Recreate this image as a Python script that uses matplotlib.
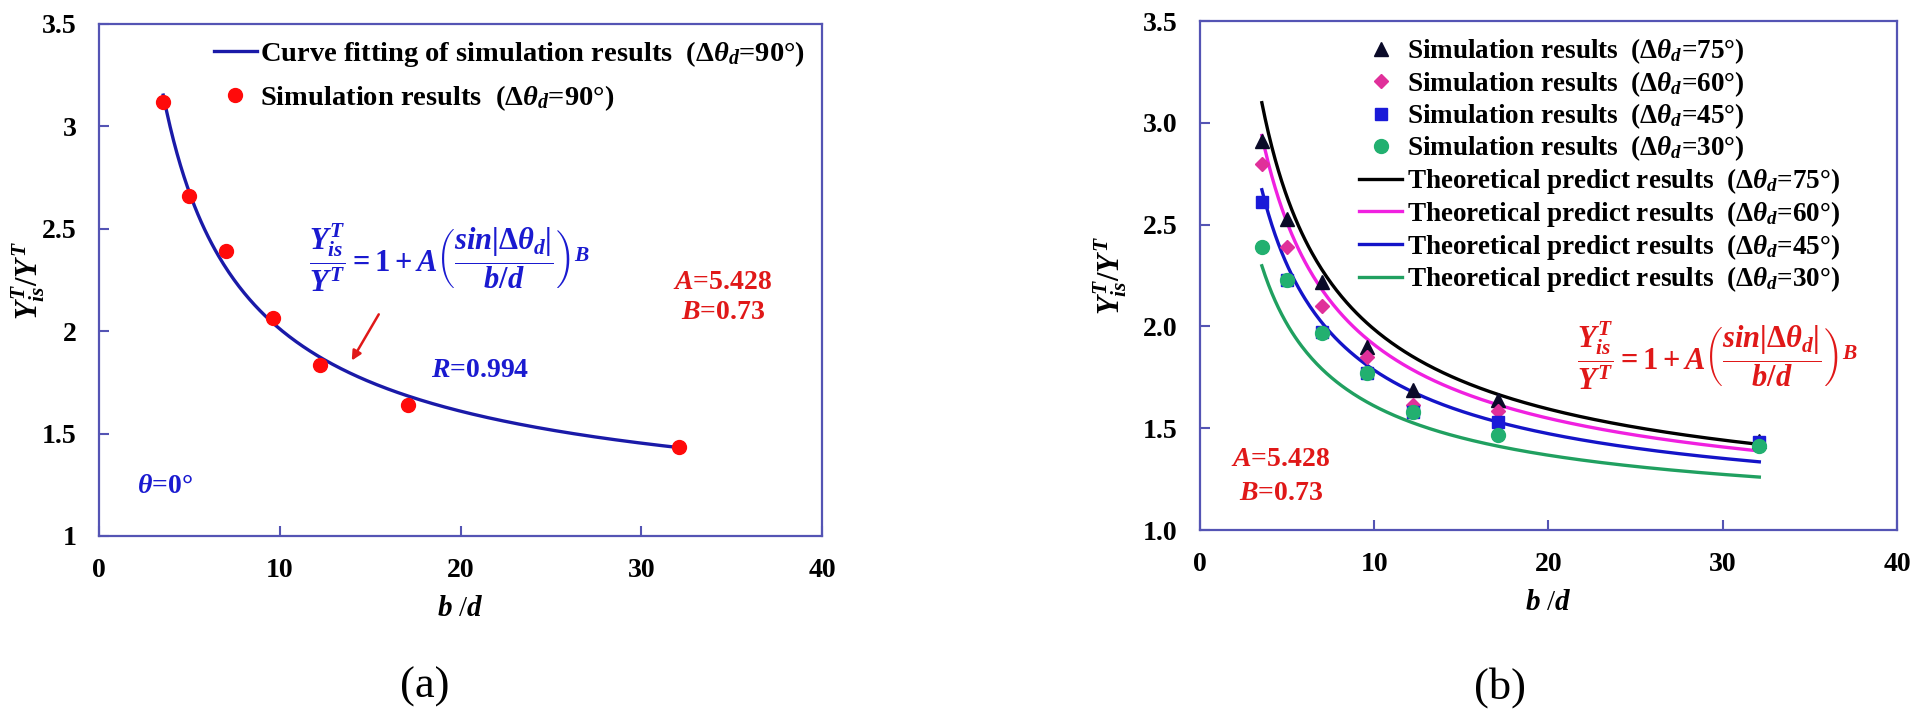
import matplotlib
matplotlib.use("Agg")
import matplotlib.pyplot as plt
import numpy as np

# values
bd = [3.55, 5.0, 7.0, 9.6, 12.2, 17.1, 32.1]
sim_90 = [3.12, 2.66, 2.39, 2.065, 1.835, 1.64, 1.435]
sim_75 = [2.91, 2.53, 2.22, 1.90, 1.69, 1.64, 1.435]
sim_60 = [2.80, 2.39, 2.10, 1.85, 1.615, 1.585, 1.42]
sim_45 = [2.61, 2.23, 1.975, 1.77, 1.58, 1.53, 1.43]
sim_30 = [2.39, 2.23, 1.97, 1.77, 1.58, 1.465, 1.415]
angles_b = [75, 60, 45, 30]

# fit constants printed on the chart: Y/Y = 1 + A (sin|dtheta| / (b/d))^B
A_fit = 5.428
B_fit = 0.73

xticks = [0, 10, 20, 30, 40]
yticks = [1.0, 1.5, 2.0, 2.5, 3.0, 3.5]
yticklabels_a = ["1", "1.5", "2", "2.5", "3", "3.5"]
yticklabels_b = ["1.0", "1.5", "2.0", "2.5", "3.0", "3.5"]

SERIF = "Liberation Serif"
plt.rcParams["font.family"] = [SERIF, "DejaVu Serif"]
plt.rcParams["font.weight"] = "bold"
plt.rcParams["mathtext.fontset"] = "custom"
plt.rcParams["mathtext.rm"] = "Liberation Serif:bold"
plt.rcParams["mathtext.it"] = "Liberation Serif:italic:bold"
plt.rcParams["mathtext.bf"] = "Liberation Serif:bold"

SPINE = "#5454b4"
EQ = r"$\dfrac{Y^T_{is}}{Y^T} = 1 + A\left(\dfrac{sin|\Delta\theta_d|}{b/d}\right)^B$"


def fit_curve(theta_deg):
    x = np.linspace(bd[0], bd[-1], 300)
    s = abs(np.sin(np.radians(theta_deg)))
    return x, 1 + A_fit * (s / x) ** B_fit


def style_axes(ax, ylabels, ylab_x):
    ax.set_xlim(0, 40)
    ax.set_ylim(1, 3.5)
    ax.set_xticks(xticks)
    ax.set_yticks(yticks)
    ax.set_yticklabels(ylabels)
    for sp in ax.spines.values():
        sp.set_color(SPINE)
        sp.set_linewidth(1.6)
    ax.tick_params(direction="in", length=7, width=1.5, color=SPINE,
                   labelsize=20, pad=16)
    for lab in ax.get_xticklabels() + ax.get_yticklabels():
        lab.set_fontweight("bold")
    ax.set_xlabel("$b$ /$d$", fontsize=21)
    ax.set_ylabel("$Y^T_{is}/Y^T$", fontsize=22)
    ax.yaxis.set_label_coords(ylab_x, 0.5)
    ax.xaxis.set_label_coords(0.5, -0.118)


fig = plt.figure(figsize=(19.2, 7.18), dpi=100)
ax1 = fig.add_axes([0.0516, 0.2535, 0.3766, 0.7131])
ax2 = fig.add_axes([0.625, 0.2618, 0.363, 0.7089])

# ---- (a)
x, y = fit_curve(90)
ax1.plot(x, y, color="#1a1aa8", lw=2.4, zorder=2,
         label="Curve fitting of simulation results  (Δ$\\theta_d$=90°)")
ax1.plot(bd, sim_90, "o", color="#ff0a0a", ms=10, zorder=3,
         label="Simulation results  (Δ$\\theta_d$=90°)")
style_axes(ax1, yticklabels_a, -0.072)
ax1.legend(loc="upper left", bbox_to_anchor=(0.159, 0.97), frameon=False,
           fontsize=20.5, handlelength=1.5, handletextpad=0.1, borderpad=0,
           borderaxespad=0, labelspacing=0.5)

ax1.text(19.4, 2.36, EQ, color="#1a1ad0", fontsize=22, ha="center", va="center")
ax1.text(34.5, 2.24, "$A$=5.428", color="#e01818", fontsize=20, ha="center", va="center")
ax1.text(34.5, 2.09, "$B$=0.73", color="#e01818", fontsize=20, ha="center", va="center")
ax1.text(21.1, 1.81, "$R$=0.994", color="#1a1ad0", fontsize=20, ha="center", va="center")
ax1.text(3.65, 1.24, r"$\theta$=0°", color="#1a1ad0", fontsize=20, ha="center", va="center")
ax1.annotate("", xy=(13.9, 1.845), xytext=(15.55, 2.094),
             arrowprops=dict(arrowstyle="-|>", color="#e01818", lw=1.8,
                             mutation_scale=14))

# ---- (b)
markers = [("^", "#0a0a28", sim_75), ("D", "#e0309a", sim_60),
           ("s", "#1a1ad8", sim_45), ("o", "#22b070", sim_30)]
sizes = {"^": 10, "D": 7.5, "s": 9, "o": 10}
for (m, c, vals), ang in zip(markers, angles_b):
    ax2.plot(bd, vals, m, color=c, ms=sizes[m], zorder=3,
             label=f"Simulation results  (Δ$\\theta_d$={ang}°)")
line_cols = ["#000000", "#f020e0", "#1414c8", "#20a060"]
for c, ang in zip(line_cols, angles_b):
    x, y = fit_curve(ang)
    ax2.plot(x, y, color=c, lw=2.4, zorder=2,
             label=f"Theoretical predict results  (Δ$\\theta_d$={ang}°)")
style_axes(ax2, yticklabels_b, -0.102)
ax2.legend(loc="upper left", bbox_to_anchor=(0.228, 0.97), frameon=False,
           fontsize=19.5, handlelength=1.6, handletextpad=0.17, borderpad=0,
           borderaxespad=0, labelspacing=0.1)

ax2.text(29.7, 1.855, EQ, color="#e01818", fontsize=22, ha="center", va="center")
ax2.text(4.65, 1.344, "$A$=5.428", color="#e01818", fontsize=20, ha="center", va="center")
ax2.text(4.65, 1.18, "$B$=0.73", color="#e01818", fontsize=20, ha="center", va="center")

fig.text(0.221, 0.043, "(a)", fontsize=32, fontweight="normal", ha="center", va="center")
fig.text(0.781, 0.043, "(b)", fontsize=32, fontweight="normal", ha="center", va="center")

fig.savefig("out.png", dpi=100)
